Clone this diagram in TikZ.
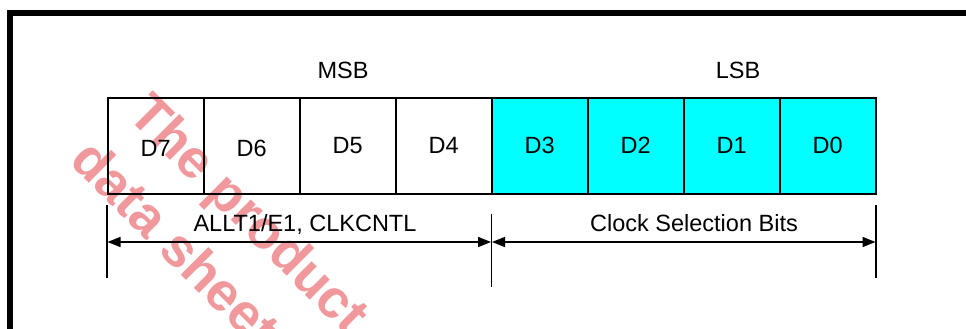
\documentclass[tikz,border=0pt]{standalone}
\usepackage{fontspec}
\setmainfont{Liberation Sans}
\usetikzlibrary{arrows.meta}
\definecolor{wmark}{RGB}{240,152,155}
\definecolor{lsbcyan}{RGB}{0,255,255}
\begin{document}
\begin{tikzpicture}[x=1pt,y=-1pt,
  cell/.style={draw=black,line width=1.5pt,minimum width=96pt,minimum height=96pt,inner sep=0pt,anchor=north west},
  bittxt/.style={font=\fontsize{23.5}{28}\selectfont,inner sep=0pt},
  lbl/.style={font=\fontsize{23.5}{28}\selectfont,inner sep=0pt},
  wm/.style={font=\fontsize{54}{62}\selectfont\bfseries,text=wmark,inner sep=0pt,rotate=-45,anchor=mid west},
  tick/.style={line width=1.5pt},
  dim/.style={line width=1.5pt,{Triangle[length=13pt,width=10pt]}-{Triangle[length=13pt,width=10pt]},shorten <=0.5pt,shorten >=0.5pt}
]
\useasboundingbox (0,0) rectangle (966,329);
% frame
\draw[line width=6pt,line join=miter] (10,340) -- (10,13) -- (975,13);
% watermark
\node[wm] (wm1) at (128,114) {The product};
\node[wm] (wm2) at (70,160) {data sheet};
% cells
\node[cell] (c7) at (107,97) {};
\node[cell] (c6) at (203,97) {};
\node[cell] (c5) at (299,97) {};
\node[cell] (c4) at (395,97) {};
\node[cell,fill=lsbcyan] (c3) at (491,97) {};
\node[cell,fill=lsbcyan] (c2) at (587,97) {};
\node[cell,fill=lsbcyan] (c1) at (683,97) {};
\node[cell,fill=lsbcyan] (c0) at (779,97) {};
\node[bittxt] (t7) at ([yshift=-3pt]c7.center) {D7};
\node[bittxt] (t6) at ([yshift=-3pt]c6.center) {D6};
\node[bittxt] (t5) at (c5.center) {D5};
\node[bittxt] (t4) at (c4.center) {D4};
\node[bittxt] (t3) at (c3.center) {D3};
\node[bittxt] (t2) at (c2.center) {D2};
\node[bittxt] (t1) at (c1.center) {D1};
\node[bittxt] (t0) at (c0.center) {D0};
% headings
\node[lbl] (msb) at (343,70) {MSB};
\node[lbl] (lsb) at (738,70) {LSB};
% ticks
\coordinate (lt) at (107,205); \coordinate (lb) at (107,278);
\coordinate (mt) at (491.5,214); \coordinate (mb) at (491.5,287);
\coordinate (rt) at (876,205); \coordinate (rb) at (876,278);
\draw[tick] (lt) -- (lb);
\draw[tick] (mt) -- (mb);
\draw[tick] (rt) -- (rb);
\coordinate (al) at (107,242);
\coordinate (am) at (491.5,242);
\coordinate (ar) at (876,242);
\draw[dim] (al) -- (am);
\draw[dim] (am) -- (ar);
\node[lbl] (lab1) at (305,224) {ALLT1/E1, CLKCNTL};
\node[lbl] (lab2) at (694,223) {Clock Selection Bits};
\end{tikzpicture}
\end{document}
